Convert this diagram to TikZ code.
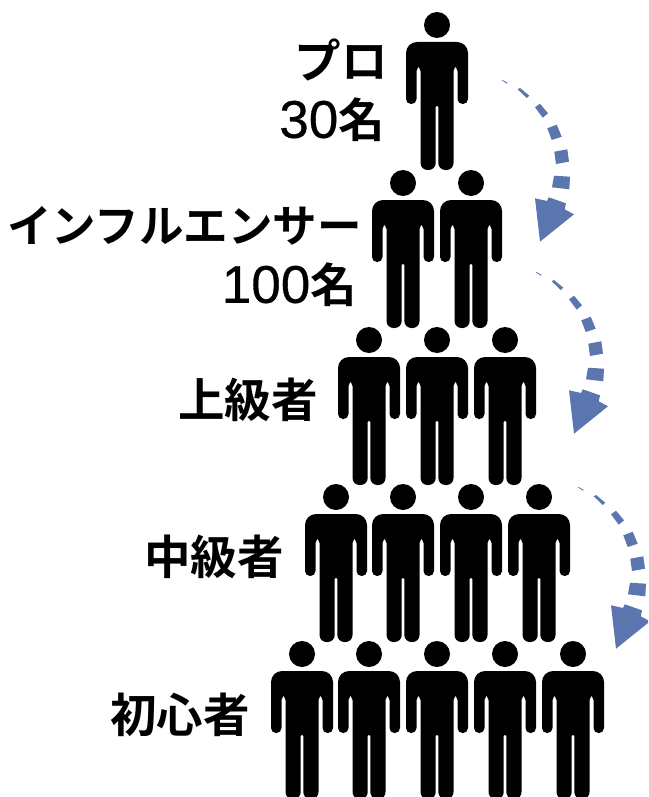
\documentclass[tikz,border=0pt]{standalone}
\usepackage{fontspec}
\setmainfont{Noto Sans CJK JP Bold}
\newfontfamily\digitfont[FakeBold=0.6]{Liberation Sans}
\definecolor{arrowblue}{HTML}{5B75AE}
\tikzset{
  x=1pt,y=-1pt,
  label text/.style={inner sep=0pt,font=\fontsize{46.5}{46.5}\selectfont,text=black,anchor=east},
  person/.pic={
    \fill[black] (0,0) circle[radius=13];
    \fill[black]
      [rounded corners=11] (-8,17) -- (-31,17) -- (-31,42)
      [rounded corners=5] -- (-31,79) -- (-20.5,79) -- (-20.5,41) -- (-16.5,41)
      [rounded corners=7] -- (-16.5,145) -- (-1.3,145)
      [rounded corners=1] -- (-1.3,81) -- (1.3,81)
      [rounded corners=7] -- (1.3,145) -- (16.5,145)
      [rounded corners=5] -- (16.5,41) -- (20.5,41) -- (20.5,79) -- (31,79)
      [rounded corners=11] -- (31,17) -- (8,17) -- cycle;
  },
  dasharrow/.pic={
    \fill[arrowblue] (11.7,10.3) -- (12.5,10) -- (17.6,12.8) -- (17,13.6) -- cycle;
    \fill[arrowblue] (27.7,19.3) -- (30,18) -- (39.3,25.7) -- (36.7,28) -- cycle;
    \fill[arrowblue] (45,37.3) -- (50,33.7) -- (58,43.3) -- (52.7,47.7) -- cycle;
    \fill[arrowblue] (57.3,58.3) -- (66.7,54.7) -- (71.7,66.7) -- (61.7,70) -- cycle;
    \fill[arrowblue] (64.3,81.7) -- (77.3,79.3) -- (79,91.7) -- (66,94) -- cycle;
    \fill[arrowblue] (64,105.7) -- (80,106.7) -- (79.3,119.3) -- (62,117.3) -- cycle;
    \fill[arrowblue] (45,128.3) -- (57,131) -- (58.7,127.3) -- (76,133.3) -- (74.7,139.3) -- (84,144.3) -- (50,171.7) -- cycle;
  },
}
\begin{document}
\begin{tikzpicture}
\useasboundingbox (0,0) rectangle (648,797);
\pic (p11) at (437,25) {person};
\pic (p21) at (403,183) {person};
\pic (p22) at (471,183) {person};
\pic (p31) at (369,340) {person};
\pic (p32) at (437,340) {person};
\pic (p33) at (505,340) {person};
\pic (p41) at (336,497) {person};
\pic (p42) at (403,497) {person};
\pic (p43) at (471,497) {person};
\pic (p44) at (539,497) {person};
\pic (p51) at (302,654) {person};
\pic (p52) at (369,654) {person};
\pic (p53) at (437,654) {person};
\pic (p54) at (505,654) {person};
\pic (p55) at (573,654) {person};
\clip (0,0) rectangle (648,797);
\pic (a1) at (490,70) {dasharrow};
\pic (a2) at (524,262) {dasharrow};
\pic (a3) at (566,477) {dasharrow};
\node[label text] (t1) at (388,60) {プロ};
\node[label text] (t2) at (385,120) {{\digitfont\fontsize{53}{53}\selectfont 30}名};
\node[label text,font=\fontsize{44.5}{44.5}\selectfont] (t3) at (362,226) {インフルエンサー};
\node[label text] (t4) at (357,285) {{\digitfont\fontsize{53}{53}\selectfont 100}名};
\node[label text] (t5) at (318,400) {上級者};
\node[label text] (t6) at (284,557) {中級者};
\node[label text] (t7) at (250,715) {初心者};
\end{tikzpicture}
\end{document}
